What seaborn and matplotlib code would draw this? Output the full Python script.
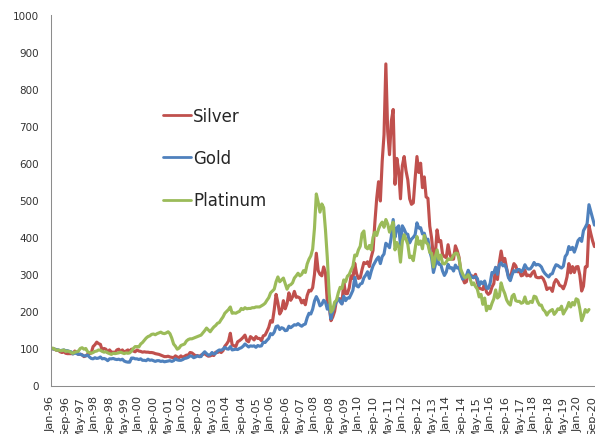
import numpy as np
import pandas as pd
import matplotlib
matplotlib.use("Agg")
import matplotlib.pyplot as plt
import seaborn as sns

# Index values (Jan-96 = 100), monthly
silver = [
    100, 99, 98, 95, 95, 91, 89, 91, 87, 86, 86, 86,
    86, 93, 89, 84, 84, 83, 78, 80, 84, 86, 88, 105,
    110, 117, 113, 111, 95, 100, 98, 89, 96, 90, 90, 89,
    96, 98, 91, 96, 90, 93, 96, 93, 98, 93, 91, 96,
    93, 92, 90, 91, 90, 90, 89, 89, 88, 86, 85, 84,
    82, 80, 78, 78, 79, 77, 76, 75, 80, 77, 75, 80,
    76, 79, 82, 82, 89, 88, 84, 80, 81, 78, 82, 84,
    86, 82, 79, 80, 82, 81, 90, 89, 92, 89, 94, 106,
    112, 120, 141, 110, 107, 105, 118, 121, 125, 130, 136, 121,
    118, 132, 128, 123, 132, 127, 127, 121, 134, 136, 146, 157,
    175, 171, 205, 246, 223, 193, 202, 229, 207, 221, 250, 230,
    239, 254, 238, 239, 236, 223, 230, 218, 243, 257, 255, 264,
    300, 357, 310, 300, 296, 320, 305, 225, 215, 175, 185, 200,
    230, 234, 234, 221, 279, 248, 248, 264, 296, 289, 330, 302,
    289, 291, 313, 332, 329, 334, 321, 346, 365, 440, 505, 550,
    498, 605, 677, 868, 686, 623, 714, 745, 543, 613, 580, 504,
    593, 618, 580, 555, 504, 489, 493, 559, 618, 575, 600, 534,
    563, 509, 505, 430, 398, 348, 352, 420, 388, 391, 354, 348,
    345, 380, 354, 341, 341, 377, 364, 346, 305, 289, 277, 280,
    307, 296, 296, 291, 300, 279, 263, 261, 259, 277, 252, 246,
    250, 266, 275, 318, 286, 332, 363, 334, 343, 316, 295, 286,
    311, 329, 323, 307, 309, 296, 298, 311, 296, 298, 295, 304,
    309, 293, 291, 291, 293, 288, 277, 259, 263, 263, 254, 277,
    286, 280, 270, 268, 261, 273, 293, 329, 304, 321, 305, 320,
    321, 298, 255, 268, 320, 321, 432, 410, 390, 375,
]

gold = [
    100, 99, 98, 97, 96, 94, 95, 96, 94, 94, 92, 91,
    85, 88, 86, 84, 85, 82, 80, 80, 82, 77, 73, 72,
    75, 73, 74, 77, 72, 73, 71, 67, 72, 72, 73, 71,
    70, 71, 69, 71, 66, 64, 63, 63, 74, 74, 72, 72,
    70, 72, 68, 68, 67, 71, 68, 69, 67, 65, 67, 67,
    65, 66, 64, 65, 66, 67, 65, 67, 72, 69, 68, 68,
    70, 73, 74, 76, 80, 79, 75, 77, 80, 78, 78, 86,
    91, 86, 82, 83, 89, 85, 87, 93, 96, 95, 98, 103,
    99, 98, 105, 96, 97, 98, 97, 100, 102, 106, 112, 108,
    104, 107, 106, 107, 103, 108, 106, 107, 117, 116, 122, 127,
    140, 137, 144, 159, 161, 151, 156, 154, 148, 149, 160, 156,
    160, 164, 163, 167, 163, 160, 164, 166, 183, 195, 193, 206,
    228, 240, 230, 215, 219, 230, 225, 206, 218, 180, 201, 215,
    227, 235, 226, 220, 241, 229, 236, 236, 246, 257, 292, 269,
    266, 274, 276, 291, 298, 307, 289, 308, 323, 332, 341, 347,
    329, 348, 355, 384, 379, 372, 402, 448, 400, 425, 431, 378,
    431, 422, 410, 408, 385, 395, 400, 407, 439, 425, 426, 409,
    411, 392, 395, 363, 344, 305, 324, 344, 327, 327, 309, 297,
    306, 327, 317, 318, 309, 325, 317, 318, 300, 287, 292, 296,
    311, 300, 292, 291, 294, 289, 270, 280, 275, 282, 263, 262,
    276, 305, 304, 319, 300, 326, 331, 323, 326, 314, 291, 283,
    299, 310, 307, 313, 313, 307, 313, 326, 317, 314, 315, 322,
    332, 325, 327, 325, 320, 309, 302, 297, 293, 300, 302, 316,
    326, 324, 320, 317, 322, 348, 355, 375, 367, 373, 360, 374,
    391, 397, 389, 418, 427, 437, 488, 470, 452, 433,
]

platinum = [
    100, 101, 98, 95, 96, 94, 94, 96, 92, 93, 92, 89,
    87, 90, 91, 93, 100, 102, 98, 100, 91, 89, 87, 89,
    92, 93, 96, 95, 92, 90, 91, 88, 86, 84, 87, 86,
    87, 88, 90, 88, 86, 88, 87, 88, 93, 100, 105, 105,
    104, 112, 116, 122, 128, 132, 134, 138, 139, 137, 140, 142,
    144, 141, 140, 142, 145, 140, 128, 112, 106, 98, 101, 108,
    110, 112, 120, 124, 126, 126, 128, 130, 132, 134, 136, 142,
    148, 155, 150, 145, 152, 158, 162, 168, 170, 178, 185, 195,
    200, 205, 212, 195, 196, 195, 198, 200, 208, 205, 210, 207,
    208, 208, 210, 210, 212, 212, 212, 215, 218, 222, 230, 237,
    250, 255, 260, 280, 293, 280, 285, 290, 275, 260, 270, 272,
    277, 290, 296, 303, 296, 300, 310, 305, 328, 341, 350, 368,
    425, 517, 495, 468, 490, 480, 420, 345, 250, 198, 205, 225,
    230, 250, 265, 262, 285, 280, 295, 300, 312, 322, 352, 350,
    366, 376, 410, 417, 373, 369, 378, 366, 400, 414, 405, 422,
    434, 441, 427, 448, 436, 414, 429, 441, 366, 386, 376, 333,
    388, 407, 395, 381, 345, 349, 337, 369, 402, 381, 390, 369,
    405, 386, 381, 359, 357, 320, 347, 366, 340, 352, 330, 328,
    333, 342, 340, 342, 352, 357, 357, 342, 313, 301, 292, 292,
    299, 289, 272, 277, 267, 260, 239, 246, 219, 236, 202, 214,
    207, 222, 234, 258, 236, 241, 277, 260, 248, 231, 222, 217,
    241, 246, 229, 227, 227, 222, 224, 239, 222, 222, 227, 224,
    241, 239, 226, 217, 217, 205, 200, 190, 198, 202, 205, 192,
    198, 207, 205, 214, 193, 202, 210, 224, 212, 224, 217, 234,
    231, 207, 175, 188, 205, 198, 205,
]

series_names = ["Silver", "Gold", "Platinum"]
series_colors = ["#C0504D", "#4F81BD", "#9BBB59"]
start_month = "1996-01-01"
tick_every = 8
y_ticks = list(range(0, 1001, 100))

n_months = max(len(silver), len(gold), len(platinum))
month_labels = list(pd.date_range(start_month, periods=n_months, freq="MS").strftime("%b-%y"))

frames = []
for name, vals in zip(series_names, [silver, gold, platinum]):
    frames.append(pd.DataFrame({"m": np.arange(len(vals)), "value": vals, "metal": name}))
df = pd.concat(frames, ignore_index=True)

sns.set_style("white")
plt.rcParams["font.family"] = ["DejaVu Sans"]

fig = plt.figure(figsize=(5.95, 4.35), dpi=100)
ax = fig.add_axes([51 / 595, 48.5 / 435, 544 / 595, 370.5 / 435])

sns.lineplot(data=df, x="m", y="value", hue="metal", hue_order=series_names,
             palette=dict(zip(series_names, series_colors)), linewidth=2.25,
             errorbar=None, ax=ax)

ax.set_xlim(0, 297.3)
ax.set_ylim(0, 1000)
ax.set_yticks(y_ticks)
xt = list(range(0, n_months, tick_every))
ax.set_xticks(xt)
ax.set_xticklabels([month_labels[i] for i in xt], rotation=90, va="top", ha="center")
ax.set_xlabel("")
ax.set_ylabel("")

axis_col = "#8c8c8c"
ax.tick_params(axis="both", direction="out", length=3.6, width=0.75, color=axis_col,
               labelsize=7.5, labelcolor="#333333", pad=3)
ax.tick_params(axis="x", labelsize=8.2, pad=3.2)
ax.tick_params(axis="y", pad=5)
for s in ["top", "right"]:
    ax.spines[s].set_visible(False)
for s in ["left", "bottom"]:
    ax.spines[s].set_color(axis_col)
    ax.spines[s].set_linewidth(0.75)

handles, labels = ax.get_legend_handles_labels()
leg = ax.legend(handles, labels, loc="upper left",
                bbox_to_anchor=(163 / 595, 1 - 108 / 435), bbox_transform=fig.transFigure,
                frameon=False, fontsize=12, handlelength=1.68, handletextpad=0.12,
                labelspacing=1.45, borderpad=0, borderaxespad=0)
for line in leg.get_lines():
    line.set_linewidth(2)
for t in leg.get_texts():
    t.set_color("#262626")

fig.savefig("out.png", dpi=100)
